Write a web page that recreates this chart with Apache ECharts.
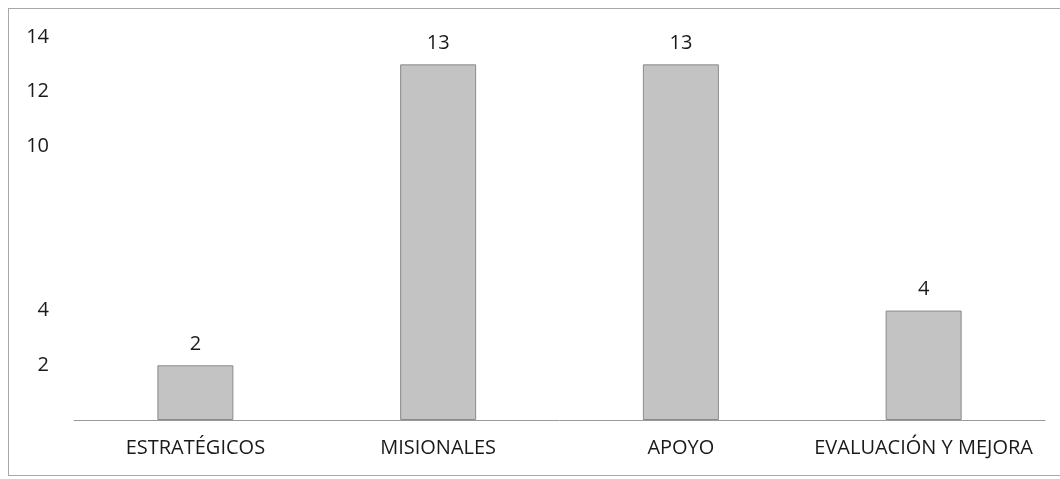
<!DOCTYPE html>
<html>
<head>
<meta charset="utf-8">
<script src="https://cdn.jsdelivr.net/npm/echarts@6/dist/echarts.min.js"></script>
<style>
html,body{margin:0;padding:0;background:#fff;}
#frame{position:absolute;left:8px;top:8px;width:1052px;height:468px;border:1px solid #a8a8a8;border-right:none;box-sizing:border-box;}
#chart{position:absolute;left:0;top:0;width:1060px;height:479px;}
</style>
</head>
<body>
<div id="frame"></div>
<div id="chart"></div>
<script>
const categories = ['ESTRATÉGICOS', 'MISIONALES', 'APOYO', 'EVALUACIÓN Y MEJORA'];
const values = [2, 13, 13, 4];
const yTickLabels = [2, 4, 10, 12, 14];

const chart = echarts.init(document.getElementById('chart'));
const font = 'Open Sans';
chart.setOption({
  animation: false,
  grid: { left: 74, right: 15, top: 37, bottom: 59 },
  xAxis: {
    type: 'category',
    data: categories,
    axisLine: { lineStyle: { color: '#9a9a9a', width: 1 } },
    axisTick: { show: false },
    axisLabel: { color: '#1a1a1a', fontFamily: font, fontSize: 20, margin: 18, interval: 0, hideOverlap: false }
  },
  yAxis: {
    type: 'value',
    min: 0, max: 14, interval: 2,
    splitLine: { show: false },
    axisLine: { show: false },
    axisTick: { show: false },
    axisLabel: {
      color: '#1a1a1a', fontFamily: font, fontSize: 20, margin: 25,
      formatter: v => yTickLabels.indexOf(v) >= 0 ? String(v) : ''
    }
  },
  series: [{
    type: 'bar',
    data: values,
    barWidth: 76,
    itemStyle: { color: '#c3c3c3', borderColor: '#8a8a8a', borderWidth: 1 },
    label: { show: true, position: 'top', distance: 11, color: '#1a1a1a', fontFamily: font, fontSize: 20 }
  }]
});
</script>
</body>
</html>
